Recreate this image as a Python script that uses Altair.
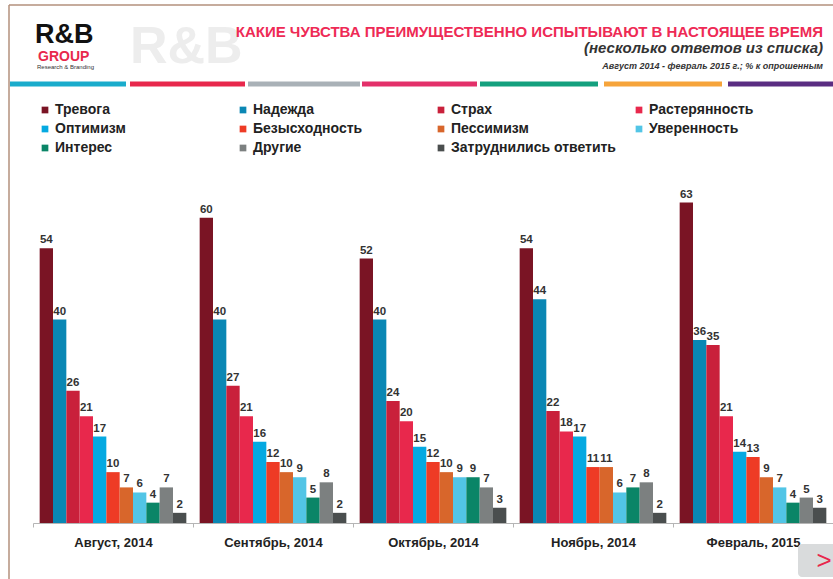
import altair as alt
import pandas as pd

months = ["Август, 2014", "Сентябрь, 2014", "Октябрь, 2014", "Ноябрь, 2014", "Февраль, 2015"]
categories = ["Тревога", "Надежда", "Страх", "Растерянность", "Оптимизм", "Безысходность",
              "Пессимизм", "Уверенность", "Интерес", "Другие", "Затруднились ответить"]
colors = ["#7a1424", "#0a87b4", "#c9203b", "#e8284c", "#05a9e1", "#ee3b25",
          "#d8662b", "#52c5e6", "#0a8567", "#7c8080", "#4a4e4e"]

aug_2014 = [54, 40, 26, 21, 17, 10, 7, 6, 4, 7, 2]
sep_2014 = [60, 40, 27, 21, 16, 12, 10, 9, 5, 8, 2]
oct_2014 = [52, 40, 24, 20, 15, 12, 10, 9, 9, 7, 3]
nov_2014 = [54, 44, 22, 18, 17, 11, 11, 6, 7, 8, 2]
feb_2015 = [63, 36, 35, 21, 14, 13, 9, 7, 4, 5, 3]

series = [aug_2014, sep_2014, oct_2014, nov_2014, feb_2015]
rows = []
for m, vals in zip(months, series):
    for c, v in zip(categories, vals):
        rows.append({"month": m, "category": c, "value": v})
df = pd.DataFrame(rows)

FONT = "Liberation Sans, Arial, sans-serif"

x_enc = alt.X("month:N", sort=months, title=None,
              scale=alt.Scale(paddingInner=0, paddingOuter=0),
              axis=alt.Axis(labelAngle=0, labelFont=FONT, labelFontSize=13, labelFontWeight="bold",
                            labelColor="#222", domainColor="#b5b5b5", tickColor="#b5b5b5",
                            tickSize=4, tickBand="extent", labelPadding=9))
xo_enc = alt.XOffset("category:N", sort=categories,
                     scale=alt.Scale(paddingInner=0, paddingOuter=0.5))
y_enc = alt.Y("value:Q", scale=alt.Scale(domain=[0, 70]), axis=None)

bars = alt.Chart(df).mark_bar().encode(
    x=x_enc, xOffset=xo_enc, y=y_enc,
    color=alt.Color("category:N", sort=categories,
                    scale=alt.Scale(domain=categories, range=colors),
                    legend=alt.Legend(title=None, orient="none", legendX=5, legendY=-64,
                                      direction="horizontal", columns=4, gridAlign="all",
                                      symbolType="square", symbolSize=45, symbolStrokeWidth=0,
                                      labelFont=FONT, labelFontSize=14, labelFontWeight="bold",
                                      labelColor="#222", labelOffset=3, rowPadding=5,
                                      columnPadding=16, labelLimit=300)),
)

labels = alt.Chart(df).mark_text(dy=-8, font=FONT, fontSize=11.5, fontWeight="bold",
                                  color="#333").encode(
    x=x_enc, xOffset=xo_enc, y=y_enc, text="value:Q")

one = alt.Data(values=[{"a": 1}])

def deco_text(text, x, y, **kw):
    return alt.Chart(one).mark_text(text=text, **kw).encode(x=alt.value(x), y=alt.value(y))

def deco_rule(x, x2, y, y2, color, width):
    return alt.Chart(one).mark_rule(color=color, strokeWidth=width, strokeCap="butt").encode(
        x=alt.value(x), x2=alt.value(x2), y=alt.value(y), y2=alt.value(y2))

# header (pixel positions relative to plot origin at (33,167))
watermark = deco_text("R&B", 97, -120, font=FONT, fontSize=52, fontWeight="bold",
                      color="#ededed", align="left", baseline="middle")
logo1 = deco_text("R&B", 2, -124, font=FONT, fontSize=27, fontWeight="bold",
                  color="#111", align="left", baseline="alphabetic")
logo2 = deco_text("GROUP", 5, -106, font=FONT, fontSize=14, fontWeight="bold",
                  color="#e8284c", align="left", baseline="alphabetic")
logo3 = deco_text("Research & Branding", 4, -98, font=FONT, fontSize=6,
                  color="#333", align="left", baseline="alphabetic")
title1 = deco_text("КАКИЕ ЧУВСТВА ПРЕИМУЩЕСТВЕННО ИСПЫТЫВАЮТ В НАСТОЯЩЕЕ ВРЕМЯ", 790, -130,
                   font=FONT, fontSize=15, fontWeight="bold", color="#ee2a55",
                   align="right", baseline="alphabetic")
title2 = deco_text("(несколько ответов из списка)", 790, -114, font=FONT, fontSize=15,
                   fontWeight="bold", fontStyle="italic", color="#333",
                   align="right", baseline="alphabetic")
title3 = deco_text("Август 2014 - февраль 2015 г.; % к опрошенным", 790, -98, font=FONT,
                   fontSize=9, fontWeight="bold", fontStyle="italic", color="#333",
                   align="right", baseline="alphabetic")

stripe_colors = ["#1aaccc", "#e8284c", "#a9b1b7", "#e3306a", "#14a07e", "#f6a43a", "#5a2d82"]
stripe_x = [(-23, 93), (97, 212), (215, 327), (329, 444), (447, 565), (571, 689), (695, 800)]
stripes = [deco_rule(a, b, -83, -83, c, 5) for (a, b), c in zip(stripe_x, stripe_colors)]

frame_left = deco_rule(-24, -24, -162, 412, "#b3907d", 1.5)
frame_top = deco_rule(-24, 800, -162, -162, "#b3907d", 1.5)

corner = alt.Chart(one).mark_rect(color="#d9dbdc", cornerRadius=4).encode(
    x=alt.value(765), x2=alt.value(805), y=alt.value(377), y2=alt.value(410))
chevron = deco_text(">", 791, 394, font=FONT, fontSize=26, color="#e8284c",
                    align="center", baseline="middle")

chart = alt.layer(
    watermark, frame_left, frame_top, *stripes, logo1, logo2, logo3,
    title1, title2, title3, corner, chevron, bars, labels
).properties(
    width=800, height=356,
    autosize=alt.AutoSizeParams(type="none"),
    padding={"left": 33, "top": 167, "right": 0, "bottom": 56},
    background="white",
).configure_view(stroke=None)

chart.save("out.html", embed_options={"renderer": "svg", "actions": False})
